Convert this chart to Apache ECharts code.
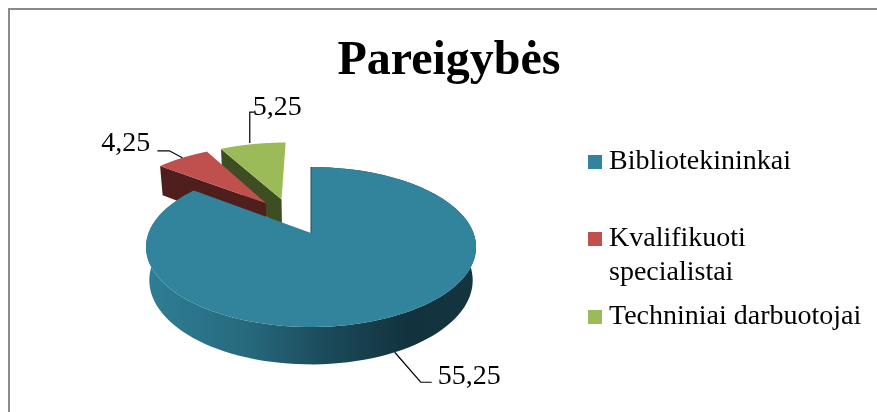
<!DOCTYPE html>
<html><head><meta charset="utf-8">
<style>html,body{margin:0;padding:0;background:#fff}#c{width:877px;height:412px}</style>
<script src="https://cdn.jsdelivr.net/npm/echarts@6/dist/echarts.min.js"></script>
</head><body><div id="c"></div>
<script>
const titleText = 'Pareigybės';
const categories = ['Bibliotekininkai', 'Kvalifikuoti specialistai', 'Techniniai darbuotojai'];
const values = [55.25, 4.25, 5.25];
const valueLabels = ['55,25', '4,25', '5,25'];
const topColors = ['#31849B', '#C0504D', '#9BBB59'];
const FONT = '"Liberation Serif","Times New Roman",serif';

// perspective model of the tilted, exploded pie
const P = {cx: 311, cy: 233, a: 162.5, b: 77.55, k: 0.175, depth: 33.5, dw: 0.02, explode: 0.25, backShift: 0.022};
const total = values.reduce((s, v) => s + v, 0);
const slices = [];
let acc = 0;
values.forEach(v => { slices.push({start: acc / total * 2 * Math.PI, end: (acc + v) / total * 2 * Math.PI}); acc += v; });
const dirOf = t => [Math.sin(t), -Math.cos(t)];
const midOf = s => (s.start + s.end) / 2;
const mainDir = dirOf(midOf(slices[0]));
slices.forEach((s, i) => {
  const d = dirOf(midOf(s));
  s.ou = P.explode * (d[0] - mainDir[0]) - (i ? P.backShift : 0);
  s.ov = P.explode * (d[1] - mainDir[1]);
});
function proj(u, v, bottom) {
  const w = 1 - P.k * v + (bottom ? P.dw : 0);
  return [P.cx + P.a * u / w, P.cy + (P.b * v + (bottom ? P.depth : 0)) / w];
}
function rim(s, t, bottom) { const d = dirOf(t); return proj(s.ou + d[0], s.ov + d[1], bottom); }
function arc(s, from, to, bottom) {
  const n = 120, pts = [];
  for (let i = 0; i <= n; i++) pts.push(rim(s, from + (to - from) * i / n, bottom));
  return pts;
}
const faceColors = ['#12323d', '#4f1f1d', '#3f4e22'];
const sideGradient = new echarts.graphic.LinearGradient(0, 0, 1, 0, [
  {offset: 0, color: '#2f7e95'}, {offset: 0.3, color: '#276a7e'}, {offset: 0.55, color: '#1b4a5a'},
  {offset: 0.8, color: '#12323d'}, {offset: 1, color: '#14353f'}]);

// label anchors: leader line bends relative to the slice's rim mid-point, and text offset
const leaders = [
  {bottom: true, from: [0, 0], bends: [[26, 30], [37, 30]], text: [43, 24], align: 'left'},
  {bottom: false, from: [0, 0], bends: [[-13, -7], [-25, -7]], text: [-32, -14], align: 'right'},
  {bottom: false, from: [-3, -1], bends: [[-3, -32], [2, -32]], text: [0, -36], align: 'left'}
];

function renderSlice(i) {
  return function () {
    const s = slices[i], children = [];
    const apexT = proj(s.ou, s.ov, false), apexB = proj(s.ou, s.ov, true);
    if (i === 0) {
      children.push({type: 'polygon', shape: {points: arc(s, s.start, s.end, false).concat(arc(s, s.start, s.end, true).reverse())},
        style: {fill: sideGradient}, silent: true});
    } else {
      children.push({type: 'polygon', shape: {points: [rim(s, s.start, false), apexT, apexB, rim(s, s.start, true)]},
        style: {fill: faceColors[i]}, silent: true});
    }
    children.push({type: 'polygon', shape: {points: [apexT].concat(arc(s, s.start, s.end, false))},
      style: {fill: topColors[i]}, silent: true});
    if (i === 0) {
      children.push({type: 'polyline', shape: {points: [apexT, rim(s, s.start, false)]},
        style: {stroke: '#1d4f5e', lineWidth: 1, fill: null}, silent: true});
    }
    const L = leaders[i], a = rim(s, midOf(s), L.bottom);
    children.push({type: 'polyline', shape: {points: [[a[0] + L.from[0], a[1] + L.from[1]]].concat(L.bends.map(b => [a[0] + b[0], a[1] + b[1]]))},
      style: {stroke: '#000', lineWidth: 1.2, fill: null}, silent: true, z2: 5});
    children.push({type: 'text', x: a[0] + L.text[0], y: a[1] + L.text[1], silent: true, z2: 6,
      style: {text: valueLabels[i], fill: '#000', font: '28px ' + FONT, textAlign: L.align, textVerticalAlign: 'middle'}});
    return {type: 'group', children};
  };
}

const chart = echarts.init(document.getElementById('c'), null, {renderer: 'canvas'});
const legendText = {fontFamily: FONT, fontSize: 28, color: '#000', lineHeight: 34};
// swatch is 14 wide inside a 16-wide icon box, which sets the gap before the text
const legendBase = {left: 588, itemWidth: 16, itemHeight: 14, itemGap: 0, padding: 0, selectedMode: false,
  icon: 'path://M0 0H14V14H0ZM16 14L16 14Z'};
chart.setOption({
  animation: false,
  backgroundColor: '#fff',
  title: {text: titleText, left: 444, top: 33, textAlign: 'center',
    textStyle: {fontFamily: FONT, fontSize: 48, fontWeight: 'bold', color: '#000'}},
  legend: [
    Object.assign({}, legendBase, {data: [categories[0]], top: 145, textStyle: legendText}),
    Object.assign({}, legendBase, {data: [categories[1]], top: 188, textStyle: legendText,
      formatter: n => '\n' + n.replace(' ', '\n')}),
    Object.assign({}, legendBase, {data: [categories[2]], top: 300, textStyle: legendText})
  ],
  graphic: [
    {type: 'polyline', shape: {points: [[9, 412], [9, 9], [877, 9]]}, style: {stroke: '#8a8a8a', lineWidth: 2, fill: null}, silent: true}
  ],
  series: categories.map((name, i) => ({
    type: 'custom', name, coordinateSystem: 'none', z: 3 - i,
    data: [[values[i]]], renderItem: renderSlice(i), silent: true,
    itemStyle: {color: topColors[i]}
  }))
});
</script></body></html>
